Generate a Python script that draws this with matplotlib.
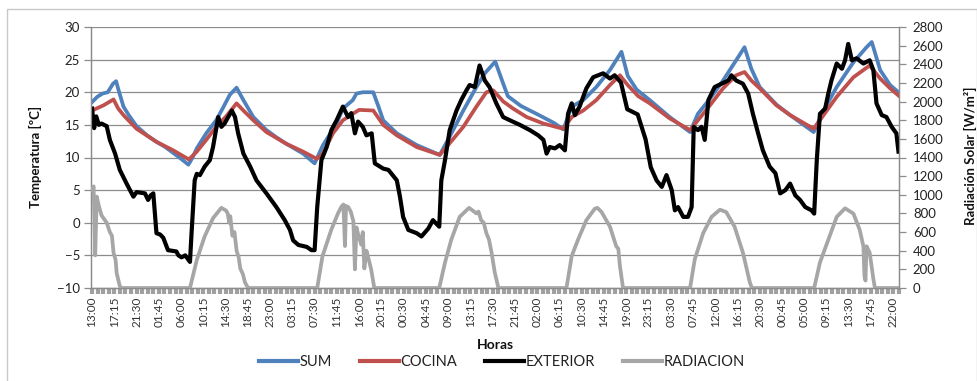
import matplotlib
matplotlib.use("Agg")
import matplotlib.pyplot as plt
from matplotlib.lines import Line2D
from matplotlib.patches import Rectangle
import numpy as np

plt.rcParams['font.family'] = ['Lato', 'DejaVu Sans']

# Elapsed hours since 13:00 of the first day
sum_t = [0, 1.0, 2.0, 3.0, 4.0, 4.6, 5.0, 6.0, 7.0, 8.5, 10.5, 12.3, 14.0, 15.5, 17.0, 18.4,
         19.2, 20.0, 21.8, 23.7, 25.0, 26.3, 27.6, 28.9, 30.8, 33.3, 35.2, 37.1, 40.3, 42.5,
         44.1, 46.7, 47.9, 49.8, 50.5, 51.7, 53.7, 54.7, 55.6, 58.2, 62.0, 66.4, 68.3, 70.9,
         73.4, 75.0, 77.0, 78.3, 79.4, 81.9, 85.1, 88.2, 90.0, 91.6, 93.8, 96.3, 98.9, 101.1,
         102.3, 104.0, 106.5, 110.3, 114.2, 115.7, 118.0, 120.5, 123.0, 124.6, 125.9, 127.5,
         130.7, 133.3, 137.8, 139.7, 142.2, 145.4, 147.9, 148.9, 150.5, 152.4, 154.0]
sum_v = [18.5, 19.3, 19.8, 20.0, 21.3, 21.7, 20.5, 17.8, 16.5, 14.8, 13.4, 12.4, 11.6, 10.7, 9.8, 8.9,
         10.0, 11.4, 13.7, 15.7, 17.6, 19.6, 20.7, 18.8, 16.2, 14.2, 13.1, 12.1, 10.6, 9.1,
         11.9, 15.2, 17.5, 18.8, 19.8, 20.0, 20.0, 17.8, 15.7, 13.7, 11.9, 10.4, 13.2, 17.2,
         20.8, 22.9, 24.7, 21.8, 19.4, 17.9, 16.6, 15.3, 14.3, 17.8, 18.8, 20.8, 23.4, 26.2,
         22.5, 20.4, 18.8, 16.2, 13.9, 16.7, 19.0, 21.8, 24.9, 26.9, 23.6, 20.8,
         18.1, 16.5, 13.9, 17.2, 20.8, 24.6, 26.9, 27.7, 23.4, 21.1, 20.0]

cocina_t = [0, 2.2, 4.1, 5.0, 6.0, 8.5, 12.3, 15.5, 18.5, 20.0, 21.8, 23.7, 25.6, 27.6, 28.9,
            30.8, 33.3, 37.1, 40.3, 42.9, 44.1, 46.0, 47.9, 49.8, 51.0, 53.7, 55.6, 58.2, 62.0,
            66.4, 68.3, 70.9, 73.4, 75.3, 76.6, 78.5, 80.4, 83.0, 86.2, 90.0, 91.6, 93.8, 96.3,
            98.9, 100.8, 102.3, 104.3, 106.5, 110.3, 114.2, 115.7, 118.0, 120.5, 123.0, 124.6,
            125.9, 127.5, 130.7, 133.3, 137.8, 139.7, 142.2, 145.4, 148.5, 150.5, 152.4, 154.0]
cocina_v = [17.2, 18.0, 18.9, 17.5, 16.5, 14.4, 12.4, 11.1, 9.7, 10.9, 12.7, 14.7, 16.3, 18.3, 17.2,
            15.7, 13.9, 12.1, 10.9, 9.8, 10.6, 13.7, 15.7, 16.7, 17.3, 17.2, 15.0, 13.4, 11.6,
            10.4, 12.2, 14.7, 17.8, 20.0, 20.3, 18.6, 17.5, 16.2, 15.2, 14.4, 16.2, 17.2, 18.8,
            21.1, 22.6, 21.1, 19.4, 18.3, 16.0, 14.2, 15.7, 18.0, 20.6, 22.6, 23.1,
            21.8, 20.6, 18.0, 16.5, 14.4, 16.5, 19.3, 22.3, 24.1, 22.1, 20.6, 19.5]

exterior_t = [0, 0.4, 0.8, 1.3, 1.8, 2.8, 3.4, 4.4, 5.3, 6.6, 7.9, 8.5, 10.1, 10.7, 11.2, 11.7,
              12.3, 13.0, 13.6, 14.5, 16.1, 16.5, 17.1, 17.8, 18.7, 19.0, 19.6, 20.0, 20.6, 21.5,
              22.5, 23.1, 24.1, 24.7, 25.3, 26.0, 26.7, 27.3, 27.9, 28.9, 30.2, 31.4, 33.3, 35.2,
              36.8, 37.8, 38.4, 39.4, 41.0, 41.9, 42.5, 43.0, 43.8, 44.8, 45.7, 46.7, 47.9, 48.9,
              49.5, 50.2, 50.8, 51.7, 52.4, 53.4, 54.0, 55.6, 56.6, 58.2, 58.8, 59.4, 60.4, 62.0,
              62.9, 64.2, 65.1, 66.3, 66.7, 67.4, 68.3, 69.6, 70.5, 71.5, 72.1, 73.1, 74.0, 75.0,
              75.9, 77.2, 78.5, 79.8, 81.7, 83.6, 85.2, 86.2, 86.8, 87.4, 88.4, 89.3, 90.3, 90.9,
              91.6, 92.2, 93.1, 94.4, 95.7, 97.6, 98.9, 99.8, 101.0, 102.2, 104.2, 105.7, 106.7,
              107.8, 108.8, 109.7, 110.7, 111.3, 111.9, 112.9, 113.8, 114.5, 114.9, 115.7, 116.4,
              117.0, 117.7, 118.9, 120.2, 121.5, 122.1, 123.0, 124.3, 125.3, 126.2, 127.2, 128.1,
              129.4, 130.5, 131.4, 132.4, 133.3, 134.3, 135.2, 136.2, 137.4, 137.9, 138.4, 139.0,
              140.0, 140.6, 141.2, 142.2, 143.2, 143.8, 144.4, 145.1, 146.0, 147.3, 148.5, 149.2,
              149.8, 150.8, 151.7, 152.7, 153.6, 154.0]
exterior_v = [17.5, 14.5, 16.3, 15.0, 15.2, 14.8, 12.7, 10.6, 8.1, 6.0, 4.0, 4.7, 4.5, 3.5, 4.2, 4.5,
              -1.6, -1.8, -2.3, -4.2, -4.4, -5.0, -5.3, -5.0, -6.0, -1.6, 6.5, 7.5, 7.3, 8.6,
              9.6, 11.6, 16.2, 14.7, 15.2, 16.2, 17.2, 16.2, 13.7, 10.6, 8.6, 6.5, 4.5, 2.4,
              0.4, -1.1, -2.7, -3.4, -3.7, -4.2, -4.2, 2.4, 9.6, 11.6, 14.2, 15.7, 17.8, 16.2,
              16.8, 13.7, 15.5, 14.7, 13.4, 13.7, 9.1, 8.3, 8.1, 6.5, 4.0, 0.9, -1.1, -1.6,
              -2.1, -0.9, 0.4, -0.6, 6.5, 9.6, 14.2, 17.2, 18.8, 20.3, 21.1, 20.8, 24.1, 21.8,
              20.8, 18.3, 16.2, 15.7, 15.0, 14.2, 13.4, 12.7, 10.6, 11.6, 11.4, 11.9, 11.1, 16.7,
              18.3, 16.5, 17.8, 20.6, 22.3, 22.9, 22.1, 22.6, 21.5, 17.4, 16.6, 12.8, 8.5,
              6.5, 5.5, 7.3, 5.0, 1.9, 2.4, 0.9, 0.9, 2.4, 14.7, 14.2, 14.7,
              12.7, 18.8, 20.8, 21.3, 21.8, 22.6, 21.8, 21.3, 19.8, 16.7, 13.7, 11.1,
              8.6, 7.6, 4.5, 5.0, 6.0, 4.2, 3.5, 2.4, 1.9, 1.4, 9.6, 16.7,
              17.5, 19.8, 21.8, 24.4, 23.6, 24.9, 27.4, 24.9, 25.2, 24.4, 24.9, 23.4,
              18.3, 16.5, 16.2, 14.7, 13.7, 10.9]

radiacion_t = [0, 0.3, 0.6, 0.9, 1.3, 1.8, 2.8, 3.4, 3.8, 4.1, 4.5, 4.7, 5.3, 5.6,
               18.7, 20.0, 21.5, 23.1, 24.7, 25.6, 25.9, 26.2, 26.4, 26.8, 27.2, 27.6, 28.0, 28.3,
               28.8, 29.2, 29.8,
               43.0, 44.0, 45.7, 47.0, 47.6, 48.0, 48.3, 48.5, 48.9, 49.4, 49.9, 50.2, 50.5, 50.8,
               51.4, 51.7, 52.0, 52.4, 52.7, 53.3, 53.9,
               66.3, 67.4, 68.6, 70.2, 72.0, 73.4, 73.8, 74.3, 74.8, 75.3, 75.8, 76.3, 76.9, 77.6,
               90.6, 91.6, 92.8, 94.4, 96.0, 96.5, 97.3, 98.9, 100.1, 100.5, 100.8, 101.4,
               114.2, 115.1, 116.7, 118.3, 119.9, 121.1, 122.7, 124.3, 125.6, 126.0,
               137.9, 139.0, 140.6, 142.2, 143.8, 145.4, 146.6, 147.3, 147.5, 147.7, 147.9, 148.5,
               149.2, 149.5, 154.0]
radiacion_v = [1050, 1090, 350, 980, 880, 780, 700, 600, 560, 380, 300, 160, 20, 0,
               0, 300, 553, 749, 860, 830, 800, 700, 770, 560, 600, 400, 330, 210,
               150, 60, 0,
               0, 340, 627, 805, 870, 896, 450, 880, 870, 820, 718, 200, 650, 580,
               465, 600, 210, 400, 336, 200, 0,
               0, 273, 518, 763, 860, 800, 820, 728, 700, 588, 520, 378, 168, 0,
               0, 343, 518, 728, 850, 860, 815, 658, 448, 420, 238, 0,
               0, 308, 588, 763, 840, 815, 658, 378, 63, 0,
               0, 273, 518, 763, 855, 798, 623, 448, 130, 80, 448, 380,
               98, 0, 0]

tick_labels = ['13:00', '17:15', '21:30', '01:45', '06:00', '10:15', '14:30', '18:45', '23:00',
               '03:15', '07:30', '11:45', '16:00', '20:15', '00:30', '04:45', '09:00', '13:15',
               '17:30', '21:45', '02:00', '06:15', '10:30', '14:45', '19:00', '23:15', '03:30',
               '07:45', '12:00', '16:15', '20:30', '00:45', '05:00', '09:15', '13:30', '17:45',
               '22:00']

C_SUM = '#4F81BD'
C_COC = '#C0504D'
C_EXT = '#000000'
C_RAD = '#A6A6A6'
GRID = '#8C8C8C'

fig = plt.figure(figsize=(9.78, 3.81), dpi=100)
fig.patches.append(Rectangle((7 / 978, -0.02), 970 / 978, 1 - 9 / 381 + 0.02,
                             transform=fig.transFigure, fill=False,
                             edgecolor='#C8C8C8', lw=1.0))

ax = fig.add_axes([91 / 978, 1 - 288 / 381, (899 - 91) / 978, (288 - 27) / 381])
ax2 = ax.twinx()

ax.plot(sum_t, sum_v, color=C_SUM, lw=2.7, solid_joinstyle='round', zorder=3)
ax.plot(cocina_t, cocina_v, color=C_COC, lw=2.7, solid_joinstyle='round', zorder=3)
ax.plot(exterior_t, exterior_v, color=C_EXT, lw=3.0, solid_joinstyle='round', zorder=4)
ax2.plot(radiacion_t, radiacion_v, color=C_RAD, lw=2.7, solid_joinstyle='round', zorder=3)

ax.set_xlim(-0.2, 154.1)
ax.set_ylim(-10, 30)
ax2.set_ylim(0, 2800)

ax.set_yticks(np.arange(-10, 31, 5))
ax2.set_yticks(np.arange(0, 2801, 200))
ax.yaxis.grid(True, color=GRID, lw=0.9)
ax.set_axisbelow(True)

major = np.arange(len(tick_labels)) * 4.25
ax.set_xticks(major)
ax.set_xticklabels(tick_labels, rotation=90, fontsize=8.5, color='#333333')
ax.set_xticks(np.arange(0, 154.1, 4.25 / 4), minor=True)
ax.tick_params(axis='x', which='both', direction='out', length=4, width=3.0,
               color='#A0A0A0', pad=2)
ax.tick_params(axis='y', direction='out', length=5, width=0.9, color=GRID,
               labelsize=9.5, labelcolor='#222222', pad=3)
ax2.tick_params(axis='y', direction='out', length=5, width=0.9, color=GRID,
                labelsize=9.5, labelcolor='#222222', pad=5)

for a in (ax, ax2):
    a.spines['top'].set_visible(False)
    for s in ('left', 'right', 'bottom'):
        a.spines[s].set_color(GRID)
        a.spines[s].set_linewidth(0.9)

fig.text(35 / 978, 1 - 157 / 381, 'Temperatura [ºC]', rotation=90, ha='center',
         va='center', fontsize=9.5, fontweight='bold', color='#111111')
fig.text(970 / 978, 1 - 156 / 381, 'Radiación Solar [W/m²]', rotation=90, ha='center',
         va='center', fontsize=9.5, fontweight='bold', color='#111111')
fig.text(495 / 978, 1 - 345 / 381, 'Horas', ha='center', va='center', fontsize=10,
         fontweight='bold', color='#111111')

handles = [Line2D([], [], color=c, lw=3) for c in (C_SUM, C_COC, C_EXT, C_RAD)]
fig.legend(handles, ['SUM', 'COCINA', 'EXTERIOR', 'RADIACION'], ncol=4, frameon=False,
           loc='center', bbox_to_anchor=(502 / 978, 1 - 362 / 381), fontsize=10.5,
           handlelength=2.7, handletextpad=0.1, columnspacing=1.9,
           labelcolor='#222222')

fig.savefig('out.png', dpi=100)
